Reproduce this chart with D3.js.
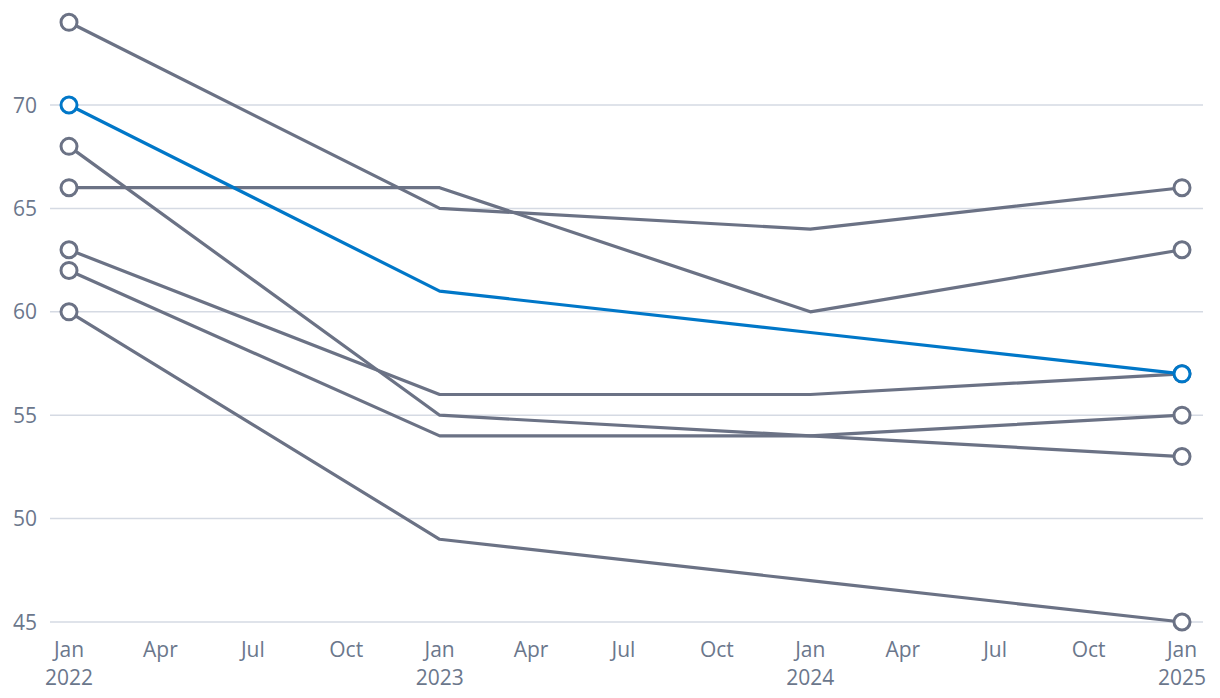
<!DOCTYPE html>
<html><head><meta charset="utf-8">
<script src="https://cdn.jsdelivr.net/npm/d3@7"></script>
<style>body{margin:0;background:#fff}svg{display:block}</style>
</head><body><svg id="c" width="1220" height="698"></svg>
<script>
const dates = ["2022-01-01","2023-01-01","2024-01-01","2025-01-01"];
const seriesA = [74, 65, 64, 66];
const seriesB = [66, 66, 60, 63];
const seriesBlue = [70, 61, 59, 57];
const seriesC = [68, 55, 54, 53];
const seriesD = [63, 56, 56, 57];
const seriesE = [62, 54, 54, 55];
const seriesF = [60, 49, 47, 45];
const yTicks = [45, 50, 55, 60, 65, 70];

const series = [
  {values: seriesA, hl: false},
  {values: seriesB, hl: false},
  {values: seriesC, hl: false},
  {values: seriesD, hl: false},
  {values: seriesE, hl: false},
  {values: seriesF, hl: false},
  {values: seriesBlue, hl: true}
];
const parse = d3.timeParse("%Y-%m-%d");
const dts = dates.map(parse);
const svg = d3.select("#c");
const x = d3.scaleTime().domain([dts[0], dts[3]]).range([69, 1182]);
const y = d3.scaleLinear().domain([45, 70]).range([622, 105]);
const font = "'Open Sans', sans-serif";
const textCol = "#6b778c";

// grid
svg.append("g").selectAll("line").data(yTicks).join("line")
  .attr("x1", 50).attr("x2", 1203)
  .attr("y1", d => y(d)).attr("y2", d => y(d))
  .attr("stroke", "#d5dae3").attr("stroke-width", 1.5);
svg.append("g").selectAll("text").data(yTicks).join("text")
  .attr("x", 37).attr("y", d => y(d)).attr("dy", "0.36em")
  .attr("text-anchor", "end").attr("font-family", font).attr("font-size", 21)
  .attr("fill", textCol).text(d => d);

// x ticks
const xt = d3.timeMonth.every(3).range(dts[0], d3.timeDay.offset(dts[3], 1));
const xg = svg.append("g").selectAll("text").data(xt).join("text")
  .attr("x", d => x(d)).attr("y", 657)
  .attr("text-anchor", "middle").attr("font-family", font).attr("font-size", 21)
  .attr("fill", textCol);
xg.append("tspan").attr("x", d => x(d)).text(d3.timeFormat("%b"));
xg.filter(d => d.getMonth() === 0).append("tspan").attr("x", d => x(d)).attr("dy", 28)
  .text(d3.timeFormat("%Y"));

const line = d3.line().x((d, i) => x(dts[i])).y(d => y(d));
const gray = "#6b7285", blue = "#0077c8";
series.forEach(s => {
  const col = s.hl ? blue : gray;
  const g = svg.append("g");
  g.append("path").attr("d", line(s.values)).attr("fill", "none")
    .attr("stroke", col).attr("stroke-width", 3.2).attr("stroke-linejoin", "round");
  g.selectAll("circle").data([0, s.values.length - 1]).join("circle")
    .attr("cx", i => x(dts[i])).attr("cy", i => y(s.values[i])).attr("r", 8)
    .attr("fill", "#fff").attr("stroke", col).attr("stroke-width", 3);
});
</script></body></html>
